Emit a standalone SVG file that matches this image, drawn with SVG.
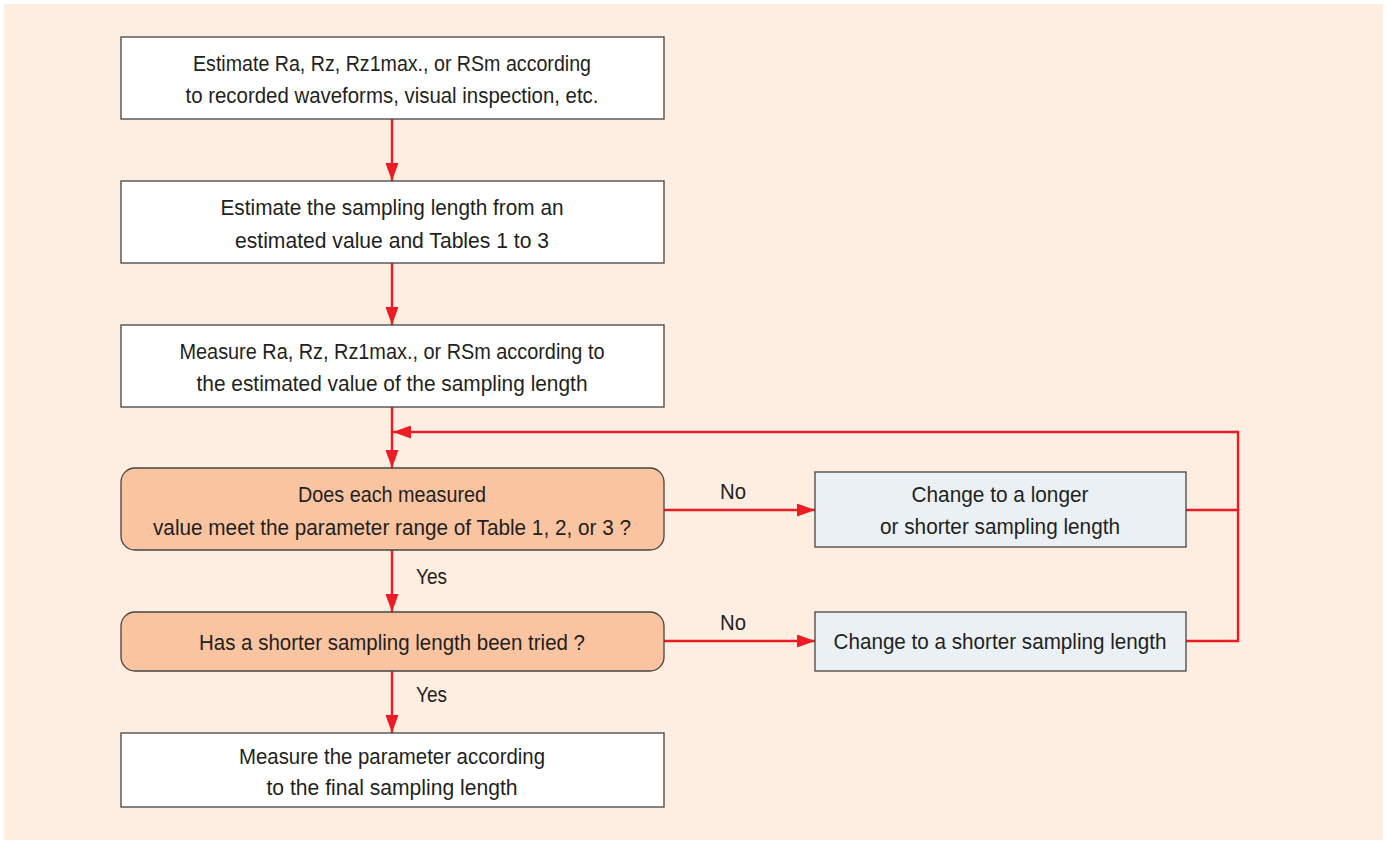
<svg xmlns="http://www.w3.org/2000/svg" width="1386" height="842" viewBox="0 0 1386 842">
<defs>
<marker id="ah" markerWidth="18" markerHeight="13" refX="18" refY="6.5" orient="auto" markerUnits="userSpaceOnUse">
<path d="M0,0 L18,6.5 L0,13 Z" fill="#ED1C24"/>
</marker>
</defs>
<style>
.bg{fill:#FEEDE1}
.w{fill:#FFFFFF;stroke:#444;stroke-width:1.3}
.d{fill:#FAC4A0;stroke:#444;stroke-width:1.3}
.g{fill:#EAF0F4;stroke:#444;stroke-width:1.3}
.c{fill:none;stroke:#ED1C24;stroke-width:2.4}
text{font-family:"Liberation Sans Narrow","Liberation Sans",Arial,sans-serif;font-size:22px;fill:#231F20;text-anchor:middle}
.l{text-anchor:start}
</style>
<rect x="0" y="0" width="1386" height="842" fill="#FFFFFF"/>
<rect class="bg" x="4" y="4" width="1379" height="836"/>
<g id="connectors">
<path class="c" d="M392,119 V181" marker-end="url(#ah)"/>
<path class="c" d="M392,263 V325" marker-end="url(#ah)"/>
<path class="c" d="M392,407 V468" marker-end="url(#ah)"/>
<path class="c" d="M392,550 V612" marker-end="url(#ah)"/>
<path class="c" d="M392,671 V733" marker-end="url(#ah)"/>
<path class="c" d="M664,510 H815" marker-end="url(#ah)"/>
<path class="c" d="M664,641 H815" marker-end="url(#ah)"/>
<path class="c" d="M1186,510 H1238"/>
<path class="c" d="M1186,641 H1238 V432 H393" marker-end="url(#ah)"/>
<text class="l" x="720" y="499" textLength="26" lengthAdjust="spacingAndGlyphs">No</text>
<text class="l" x="720" y="630" textLength="26" lengthAdjust="spacingAndGlyphs">No</text>
<text class="l" x="416" y="584" textLength="31" lengthAdjust="spacingAndGlyphs">Yes</text>
<text class="l" x="416" y="702" textLength="31" lengthAdjust="spacingAndGlyphs">Yes</text>
</g>
<g id="n1">
<rect class="w" x="121" y="37" width="543" height="82"/>
<text x="392" y="71" textLength="398" lengthAdjust="spacingAndGlyphs">Estimate Ra, Rz, Rz1max., or RSm according</text>
<text x="392" y="103" textLength="413" lengthAdjust="spacingAndGlyphs">to recorded waveforms, visual inspection, etc.</text>
</g>
<g id="n2">
<rect class="w" x="121" y="181" width="543" height="82"/>
<text x="392" y="215" textLength="343" lengthAdjust="spacingAndGlyphs">Estimate the sampling length from an</text>
<text x="392" y="248" textLength="314" lengthAdjust="spacingAndGlyphs">estimated value and Tables 1 to 3</text>
</g>
<g id="n3">
<rect class="w" x="121" y="325" width="543" height="82"/>
<text x="392" y="359" textLength="425" lengthAdjust="spacingAndGlyphs">Measure Ra, Rz, Rz1max., or RSm according to</text>
<text x="392" y="391" textLength="391" lengthAdjust="spacingAndGlyphs">the estimated value of the sampling length</text>
</g>
<g id="d1">
<rect class="d" x="121" y="468" width="543" height="82" rx="14"/>
<text x="392" y="502" textLength="188" lengthAdjust="spacingAndGlyphs">Does each measured</text>
<text x="392" y="535" textLength="478" lengthAdjust="spacingAndGlyphs">value meet the parameter range of Table 1, 2, or 3 ?</text>
</g>
<g id="r1">
<rect class="g" x="815" y="472" width="371" height="75"/>
<text x="1000" y="502" textLength="177" lengthAdjust="spacingAndGlyphs">Change to a longer</text>
<text x="1000" y="534" textLength="240" lengthAdjust="spacingAndGlyphs">or shorter sampling length</text>
</g>
<g id="d2">
<rect class="d" x="121" y="612" width="543" height="59" rx="14"/>
<text x="392" y="650" textLength="386" lengthAdjust="spacingAndGlyphs">Has a shorter sampling length been tried ?</text>
</g>
<g id="r2">
<rect class="g" x="815" y="612" width="371" height="59"/>
<text x="1000" y="649" textLength="333" lengthAdjust="spacingAndGlyphs">Change to a shorter sampling length</text>
</g>
<g id="n4">
<rect class="w" x="121" y="733" width="543" height="74"/>
<text x="392" y="764" textLength="306" lengthAdjust="spacingAndGlyphs">Measure the parameter according</text>
<text x="392" y="795" textLength="251" lengthAdjust="spacingAndGlyphs">to the final sampling length</text>
</g>
</svg>
